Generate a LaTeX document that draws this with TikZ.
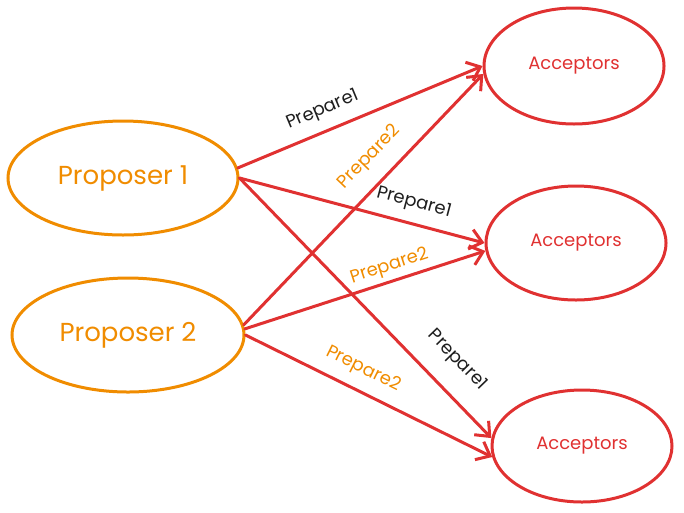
\documentclass[tikz,border=0pt]{standalone}
\usepackage{fontspec}
\setmainfont{Poppins}
\usetikzlibrary{shapes.geometric,arrows.meta}
\definecolor{exorange}{HTML}{F08C00}
\definecolor{exred}{HTML}{E03131}
\definecolor{exblack}{HTML}{1E1E1E}
\tikzset{
  proposer/.style={ellipse,draw=exorange,line width=3pt,text=exorange,font=\fontsize{26}{30}\selectfont},
  acceptor/.style={ellipse,draw=exred,line width=3pt,text=exred,font=\fontsize{18}{21}\selectfont},
  msg/.style={draw=exred,line width=3pt,line cap=round,-{Straight Barb[length=12pt,width=20pt,line width=3pt]}},
  lbl1/.style={sloped,text=exblack,font=\fontsize{18}{21}\selectfont},
  lbl2/.style={sloped,text=exorange,font=\fontsize{18}{21}\selectfont},
}
\begin{document}
\begin{tikzpicture}[x=1pt,y=-1pt]
\useasboundingbox (0,0) rectangle (684,512);
\node[proposer,minimum width=230pt,minimum height=114pt] (p1) at (123,178) {Proposer 1};
\node[proposer,minimum width=232pt,minimum height=114pt] (p2) at (128,335) {Proposer 2};
\node[acceptor,minimum width=180pt,minimum height=116pt] (a1) at (574,66) {Acceptors};
\node[acceptor,minimum width=180pt,minimum height=114pt] (a2) at (576,243) {Acceptors};
\node[acceptor,minimum width=180pt,minimum height=112pt] (a3) at (582,446) {Acceptors};
\draw[msg] (p1.5) -- node[lbl1,pos=0.38,above=7pt] (l1) {Prepare1} (a1.west);
\draw[msg] (p1.east) -- node[lbl1,pos=0.69,above=7pt] (l2) {Prepare1} (a2.west);
\draw[msg] (p1.east) -- node[lbl1,pos=0.78,above=16pt] (l3) {Prepare1} (a3.175);
\draw[msg] (p2.5) -- node[lbl2,pos=0.6,above=11pt] (l4) {Prepare2} (a1.185);
\draw[msg] (p2.3) -- node[lbl2,pos=0.62,above=1pt] (l5) {Prepare2} (a2.185);
\draw[msg] (p2.east) -- node[lbl2,pos=0.44,above=8pt] (l6) {Prepare2} (a3.187);
\end{tikzpicture}
\end{document}
